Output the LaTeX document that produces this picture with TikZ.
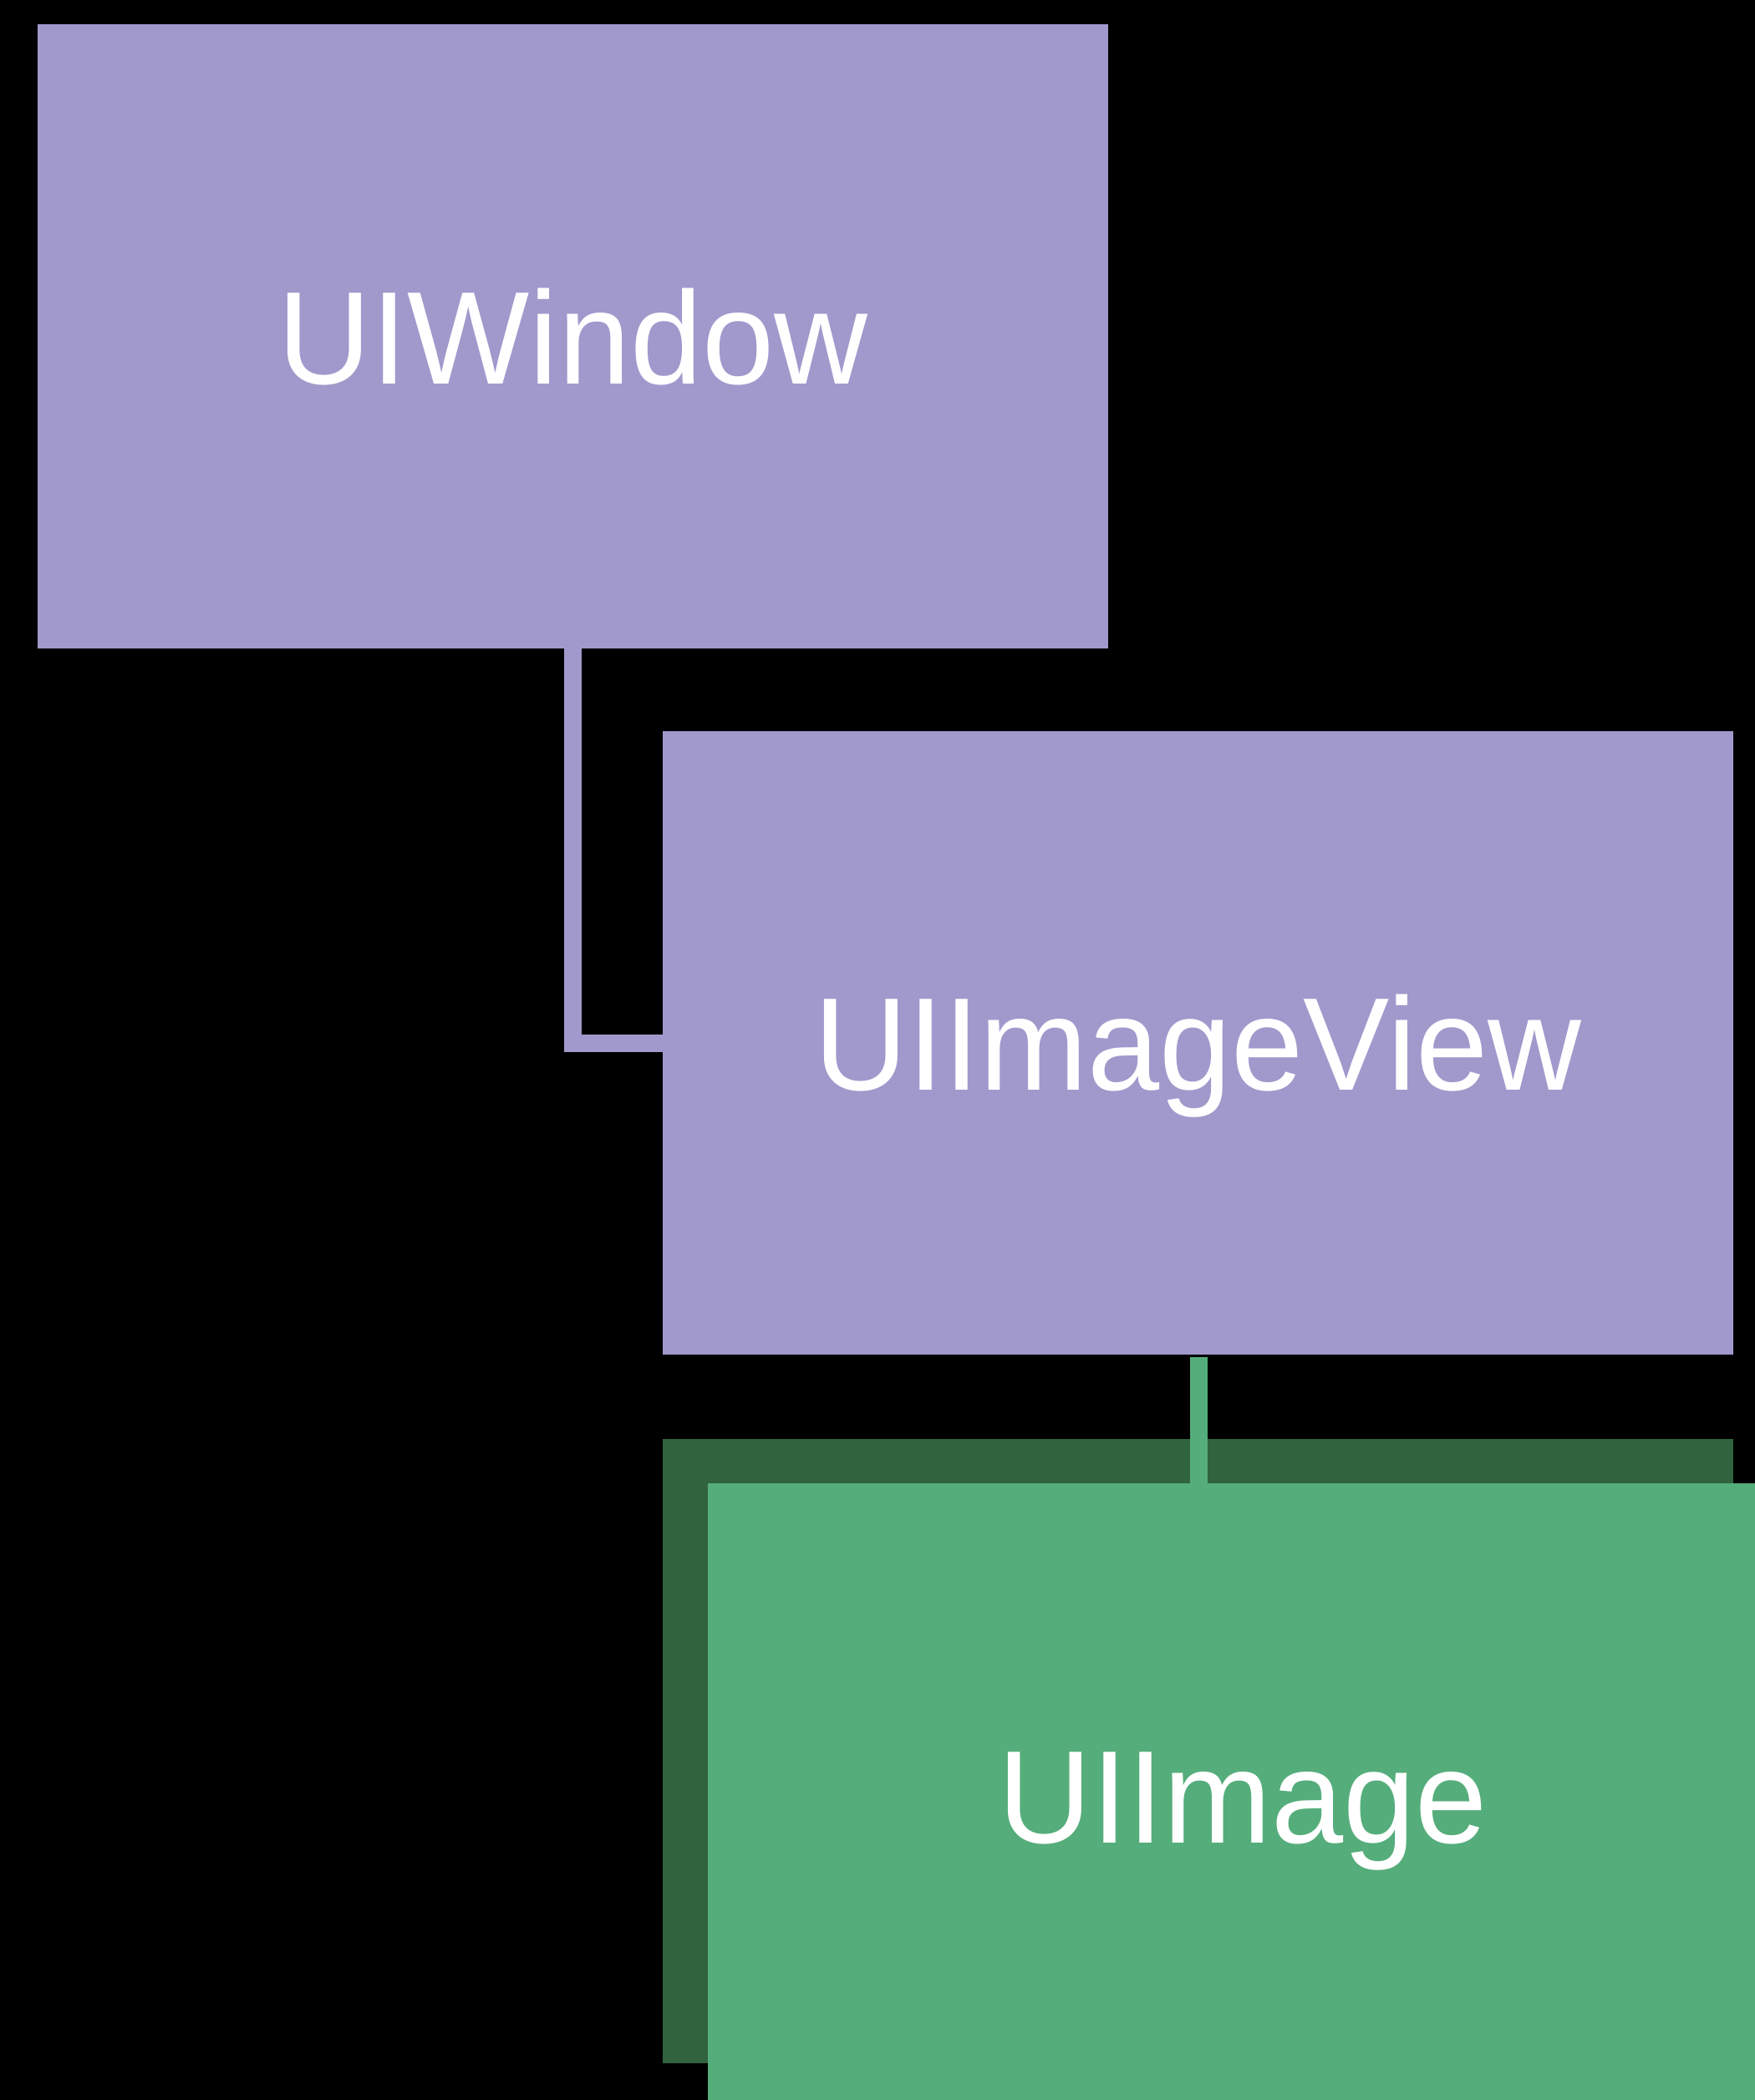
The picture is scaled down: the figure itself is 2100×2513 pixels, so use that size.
\documentclass[tikz,border=0pt]{standalone}
\usepackage{fontspec}
\setmainfont{Liberation Sans}
\newfontfamily\narrowsans[FakeStretch=0.98]{Liberation Sans}
\definecolor{viewpurple}{HTML}{A199CC}
\definecolor{imggreen}{HTML}{55AD7B}
\definecolor{imgshadow}{HTML}{30633E}
\tikzset{
  classbox/.style={rectangle, anchor=north west, inner sep=0pt, outer sep=0pt,
    minimum width=1281pt, minimum height=747pt, text=white,
    font=\narrowsans\fontsize{158}{190}\selectfont, text height=113pt, text depth=0pt},
  viewbox/.style={classbox, fill=viewpurple},
  imagebox/.style={classbox, fill=imggreen},
  shadowbox/.style={classbox, fill=imgshadow},
  link/.style={line width=21pt, line cap=butt}
}
\begin{document}
\begin{tikzpicture}[x=1pt, y=-1pt]
  % canvas
  \fill[black] (0,0) rectangle (2100,2513);
  \useasboundingbox (0,0) rectangle (2100,2513);
  \clip (0,0) rectangle (2100,2513);

  % view hierarchy
  \node[viewbox] (window) at (45,29) {UIWindow};
  \node[viewbox, minimum height=746pt] (imageview) at (793,875) {UIImageView};

  % image, drawn with an offset backing panel
  \node[shadowbox] (imageshadow) at (793,1722) {};
  \coordinate (linktop) at (1434.5,1624);
  \draw[link, imggreen] (linktop) -- (1434.5,1775);
  \node[imagebox] (image) at (847,1775) {UIImage};

  % window -> image view connector
  \coordinate (elbow) at (685.5,1248);
  \draw[link, viewpurple] (window.south -| elbow) -- (elbow) -- (imageview.west |- elbow);
\end{tikzpicture}
\end{document}
